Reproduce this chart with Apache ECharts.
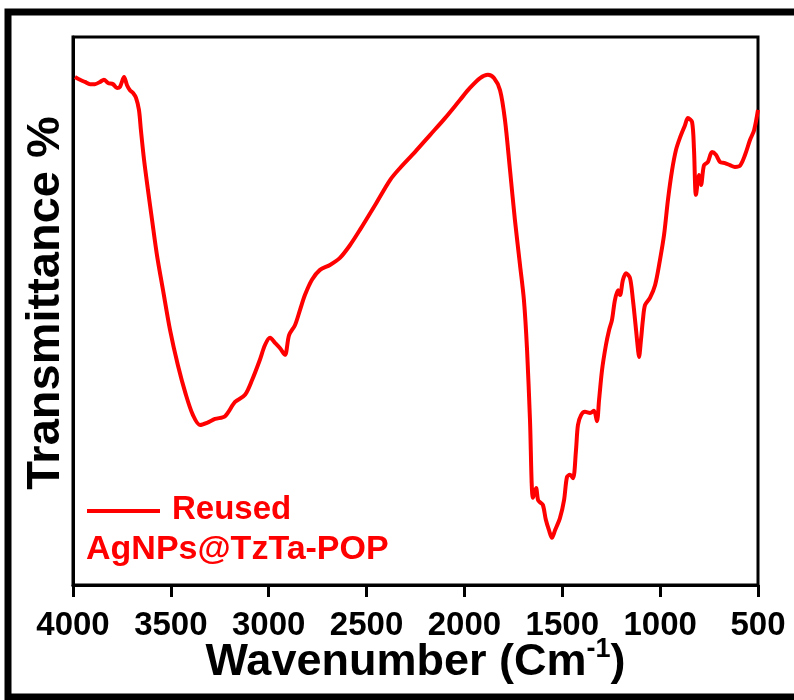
<!DOCTYPE html>
<html><head><meta charset="utf-8">
<script src="https://cdn.jsdelivr.net/npm/echarts@6/dist/echarts.min.js"></script>
<style>html,body{margin:0;padding:0;background:#fff}#c{width:794px;height:700px}</style>
</head><body><div id="c"></div>
<script>
var wavenumbers = [3990,3964,3939,3913,3888,3862,3842,3821,3796,3775,3760,3739,3724,3709,3693,3678,3663,3653,3637,3617,3596,3571,3540,3504,3464,3423,3387,3351,3315,3274,3223,3172,3121,3085,3045,3019,2993,2968,2942,2917,2896,2866,2840,2815,2779,2738,2687,2636,2585,2534,2457,2380,2329,2253,2176,2099,2023,1972,1920,1880,1849,1818,1793,1767,1742,1716,1696,1680,1665,1650,1634,1624,1614,1599,1584,1568,1553,1537,1512,1491,1476,1461,1445,1430,1420,1404,1384,1358,1338,1323,1312,1297,1277,1261,1246,1231,1215,1205,1190,1174,1154,1139,1123,1113,1108,1098,1088,1077,1052,1026,1001,980,960,939,919,899,873,858,837,827,817,801,791,776,756,735,715,694,669,643,618,592,566,541,520,500];
var transmittance = [92.7,92.2,91.8,91.4,91.4,91.8,92.2,91.6,91.4,90.7,90.9,92.7,91.2,90.3,89.8,88.9,86.7,83.0,77.6,72.1,66.6,60.2,53.8,46.5,40.1,34.7,31.0,29.2,29.6,30.3,30.8,33.4,34.7,37.4,41.1,43.8,45.1,44.2,43.2,42.0,45.6,47.4,50.2,52.9,55.7,57.5,58.4,59.7,62.0,64.8,69.3,73.9,76.1,79.0,82.1,85.2,88.5,90.7,92.5,93.1,92.5,90.3,84.9,75.7,66.6,58.4,52.0,42.9,30.1,15.9,17.7,15.5,15.1,14.6,11.9,10.0,8.6,10.0,12.2,15.5,19.7,20.1,19.5,24.6,29.2,31.0,31.6,31.4,31.8,29.9,33.8,39.2,43.8,46.5,48.4,52.0,53.8,52.9,55.7,56.9,56.0,52.0,46.5,42.9,41.6,44.7,48.4,51.1,52.4,54.7,59.3,63.9,70.3,75.7,79.4,81.6,83.9,85.2,84.5,79.4,71.2,74.8,73.0,76.6,77.2,79.0,78.5,77.2,77.0,76.6,76.3,76.5,78.5,81.2,83.0,86.7];
var xTicks = [4000,3500,3000,2500,2000,1500,1000,500];
var seriesName = 'Reused';
var sampleName = 'AgNPs@TzTa-POP';

var FONT = '"Liberation Sans", Arial, sans-serif';
var chart = echarts.init(document.getElementById('c'), null, {renderer:'canvas'});
var pts = wavenumbers.map(function(w,i){return [w, transmittance[i]];});
chart.setOption({
  animation:false,
  backgroundColor:'#fff',
  grid:{left:73,right:36,top:37,bottom:115,show:true,borderColor:'#000',borderWidth:3,backgroundColor:'transparent'},
  xAxis:{type:'value',min:500,max:4000,interval:500,inverse:true,
    axisLine:{show:true,lineStyle:{color:'#000',width:3}},
    axisTick:{show:true,inside:false,length:12,lineStyle:{color:'#000',width:3}},
    splitLine:{show:false},
    axisLabel:{color:'#000',fontFamily:FONT,fontWeight:'bold',fontSize:33,margin:24,
      formatter:function(v){return xTicks.indexOf(v)>=0?String(v):'';}},
    name:'{a|Wavenumber (Cm}{s|-1}{a|)}',nameLocation:'middle',nameGap:51,nameMoveOverlap:false,
    nameTextStyle:{rich:{
      a:{color:'#000',fontFamily:FONT,fontWeight:'bold',fontSize:45,verticalAlign:'bottom'},
      s:{color:'#000',fontFamily:FONT,fontWeight:'bold',fontSize:27,verticalAlign:'top',padding:[0,0,22,0]}
    }}
  },
  yAxis:{type:'value',min:0,max:100,axisLine:{show:true,lineStyle:{color:'#000',width:3}},axisTick:{show:false},axisLabel:{show:false},splitLine:{show:false},
    name:'Transmittance %',nameLocation:'middle',nameGap:3,nameMoveOverlap:false,
    nameTextStyle:{color:'#000',fontFamily:FONT,fontWeight:'bold',fontSize:47,padding:[0,0,0,16]}},
  series:[{name:seriesName,type:'line',data:pts,showSymbol:false,smooth:0.3,
    lineStyle:{color:'#ff0000',width:4},itemStyle:{color:'#ff0000'}}],
  graphic:[
    {type:'rect',shape:{x:8,y:12,width:800,height:685},style:{fill:'none',stroke:'#000',lineWidth:7},silent:true},
    {type:'line',shape:{x1:87,y1:511,x2:160,y2:511},style:{stroke:'#ff0000',lineWidth:4}},
    {type:'text',left:172,top:493,style:{text:seriesName,fill:'#ff0000',font:'bold 33px "Liberation Sans", Arial'}},
    {type:'text',left:86,top:533,style:{text:sampleName,fill:'#ff0000',font:'bold 34px "Liberation Sans", Arial'}}
  ]
});
</script></body></html>
